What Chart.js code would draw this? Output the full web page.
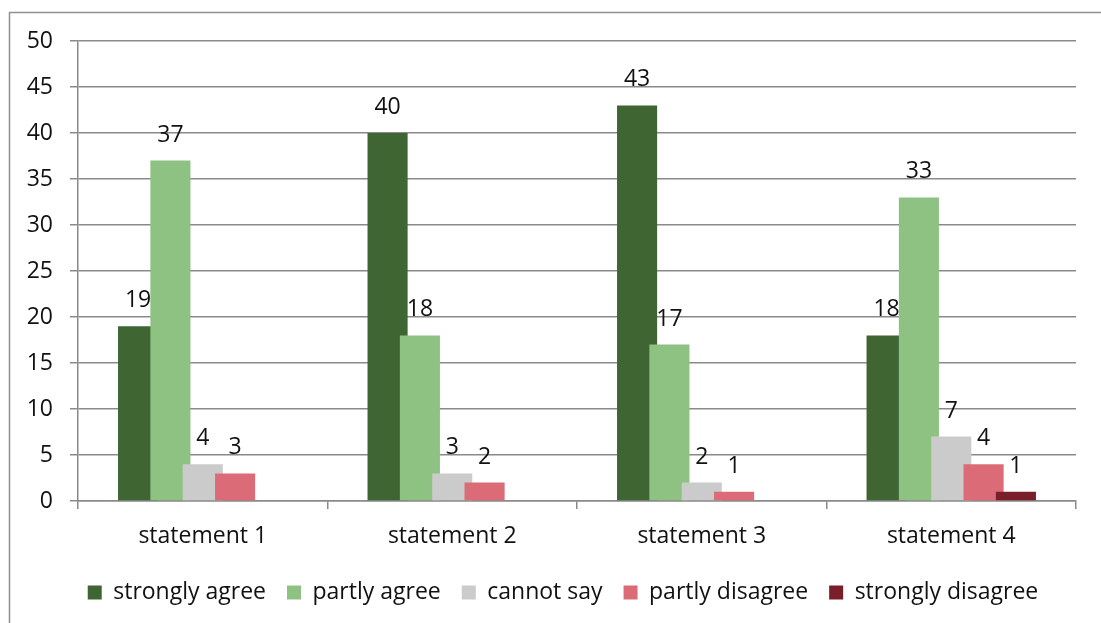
<!DOCTYPE html>
<html>
<head>
<meta charset="utf-8">
<script src="https://cdn.jsdelivr.net/npm/chart.js@4.4.1/dist/chart.umd.min.js"></script>
<style>
  html, body { margin: 0; padding: 0; background: #ffffff; }
  #wrap { width: 1101px; height: 623px; position: relative; }
</style>
</head>
<body>
<div id="wrap"><canvas id="c" width="1101" height="623"></canvas></div>
<script>
// Survey answers per statement
const categories = ['statement 1', 'statement 2', 'statement 3', 'statement 4'];
const seriesNames = ['strongly agree', 'partly agree', 'cannot say', 'partly disagree', 'strongly disagree'];
const stronglyAgree    = [19, 40, 43, 18];
const partlyAgree      = [37, 18, 17, 33];
const cannotSay        = [4, 3, 2, 7];
const partlyDisagree   = [3, 2, 1, 4];
const stronglyDisagree = [0, 0, 0, 1];
const yTicks = [0, 5, 10, 15, 20, 25, 30, 35, 40, 45, 50];

const seriesValues = [stronglyAgree, partlyAgree, cannotSay, partlyDisagree, stronglyDisagree];
const seriesColors = ['#3e6532', '#8ec283', '#cbcbcb', '#db6c77', '#7a1f2a'];

const FONT = '"Open Sans", Lato, sans-serif';
const FSIZE = 23;
const TEXT = '#111111';
const LINE = '#8a8a8a';

// Outer frame of the chart object
const framePlugin = {
  id: 'frame',
  beforeDraw(chart) {
    const ctx = chart.ctx;
    ctx.save();
    ctx.strokeStyle = '#8f8f8f';
    ctx.lineWidth = 1.5;
    ctx.strokeRect(9.5, 12.5, 1200, 700);
    ctx.restore();
  }
};

// Centre the legend under the plot area instead of the whole canvas
const legendShift = {
  id: 'legendShift',
  afterLayout(chart) {
    if (!chart.legend) return;
    chart.legend.left += 16;
    chart.legend.right += 16;
  }
};

// Draw bars left to right so each bar overlaps the one before it
const overlapPlugin = {
  id: 'overlapOrder',
  beforeDatasetsDraw(chart) {
    chart.getSortedVisibleDatasetMetas().forEach(meta => meta.controller.draw());
    return false;
  }
};

// Value labels above each non-zero bar
const valueLabels = {
  id: 'valueLabels',
  afterDraw(chart) {
    const ctx = chart.ctx;
    ctx.save();
    ctx.font = FSIZE + 'px ' + FONT;
    ctx.fillStyle = TEXT;
    ctx.textAlign = 'center';
    ctx.textBaseline = 'alphabetic';
    chart.getSortedVisibleDatasetMetas().forEach(meta => {
      const values = chart.data.datasets[meta.index].data;
      meta.data.forEach((bar, i) => {
        if (!values[i]) return;
        ctx.fillText(String(values[i]), bar.x, bar.y - 19);
      });
    });
    ctx.restore();
  }
};

new Chart(document.getElementById('c'), {
  type: 'bar',
  data: {
    labels: categories,
    datasets: seriesNames.map((name, k) => ({
      label: name,
      data: seriesValues[k],
      backgroundColor: seriesColors[k],
      borderWidth: 0,
      categoryPercentage: 0.648,
      barPercentage: 1.24
    }))
  },
  options: {
    responsive: false,
    animation: false,
    events: [],
    layout: { padding: { left: 18, right: 25, top: 41, bottom: 9 } },
    plugins: {
      legend: {
        position: 'bottom',
        labels: {
          font: { family: FONT, size: FSIZE },
          color: TEXT,
          boxWidth: 14,
          boxHeight: 14,
          padding: 21
        }
      },
      tooltip: { enabled: false }
    },
    scales: {
      x: {
        afterFit(s) { s.height = 59; },
        grid: {
          offset: true,
          drawOnChartArea: false,
          drawTicks: true,
          tickLength: 8,
          color: LINE,
          lineWidth: 1.5
        },
        border: { color: LINE, width: 1.5 },
        ticks: { font: { family: FONT, size: FSIZE }, color: TEXT, padding: 14 }
      },
      y: {
        min: 0,
        max: 50,
        afterFit(s) { s.width = 60; },
        afterBuildTicks(s) { s.ticks = yTicks.map(v => ({ value: v })); },
        grid: {
          color: LINE,
          lineWidth: 1.5,
          tickLength: 8
        },
        border: { color: LINE, width: 1.5 },
        ticks: { font: { family: FONT, size: FSIZE }, color: TEXT, padding: 17 }
      }
    }
  },
  plugins: [framePlugin, legendShift, overlapPlugin, valueLabels]
});
</script>
</body>
</html>
